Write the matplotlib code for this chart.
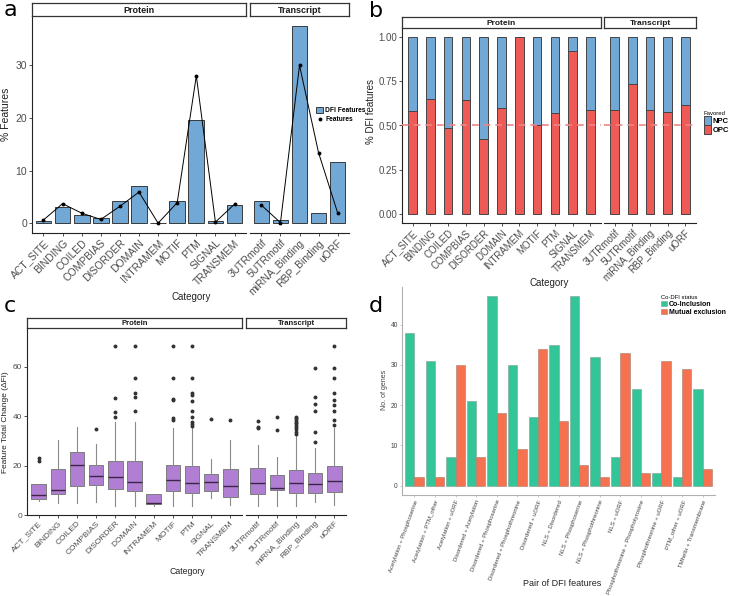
import numpy as np
import matplotlib
matplotlib.use('Agg')
import matplotlib.pyplot as plt
from matplotlib.patches import Patch
from matplotlib.lines import Line2D

plt.rcParams['font.family'] = ['Liberation Sans', 'DejaVu Sans']

# categories (facets)
protein_cats = ['ACT_SITE', 'BINDING', 'COILED', 'COMPBIAS', 'DISORDER', 'DOMAIN',
                'INTRAMEM', 'MOTIF', 'PTM', 'SIGNAL', 'TRANSMEM']
transcript_cats = ['3UTRmotif', '5UTRmotif', 'miRNA_Binding', 'RBP_Binding', 'uORF']

# panel a: % features
a_dfi_protein = [0.5, 3.0, 1.6, 0.9, 4.2, 7.0, 0.1, 4.2, 19.6, 0.4, 3.4]
a_dfi_transcript = [4.2, 0.6, 37.5, 2.0, 11.6]
a_feat_protein = [0.6, 3.7, 1.9, 0.7, 3.2, 5.9, 0.0, 3.9, 28.0, 0.2, 3.6]
a_feat_transcript = [3.4, 0.1, 30.0, 13.4, 2.0]

# panel b: fraction favoured by OPC (rest NPC)
b_opc_protein = [0.58, 0.65, 0.485, 0.645, 0.425, 0.60, 1.0, 0.505, 0.57, 0.92, 0.585]
b_opc_transcript = [0.59, 0.735, 0.588, 0.575, 0.615]

# panel c: boxplot stats, protein then transcript
c_whislo = [5.8, 4.9, 4.9, 5.4, 3.8, 3.5, 3.5, 3.8, 3.5, 6.7, 4.0,
            3.5, 3.5, 3.5, 5.1, 4.0]
c_q1 = [6.5, 8.6, 11.8, 12.3, 10.5, 9.6, 4.4, 9.6, 8.9, 9.6, 7.1,
        8.6, 10.0, 8.9, 8.9, 9.4]
c_med = [8.0, 10.2, 20.3, 15.9, 15.6, 13.3, 4.8, 14.3, 12.9, 13.5, 11.9,
         12.9, 11.1, 12.9, 12.7, 13.7]
c_q3 = [12.5, 18.6, 25.7, 20.4, 21.8, 21.8, 8.5, 20.4, 20.0, 16.6, 18.6,
        19.0, 16.3, 18.3, 17.0, 20.0]
c_whishi = [12.5, 30.5, 35.6, 28.8, 37.9, 37.9, 8.5, 35.2, 36.3, 22.5, 30.5,
            28.4, 23.7, 32.3, 27.1, 35.2]
c_fliers = [[23.0, 21.7], [], [], [34.8],
            [68.6, 47.3, 41.9, 39.9],
            [68.6, 55.4, 49.3, 47.7, 42.2], [],
            [68.6, 55.4, 47.0, 46.6, 39.2, 38.5],
            [68.6, 55.4, 49.3, 48.6, 46.2, 42.2, 39.9, 37.9, 36.8, 36.1],
            [38.9], [38.5],
            [38.3, 35.8, 35.2], [39.9, 34.5],
            [39.9, 39.2, 38.5, 37.9, 37.2, 36.5, 35.8, 34.8, 33.8, 32.9],
            [59.7, 48.0, 44.9, 42.2, 33.6, 29.4],
            [68.6, 59.7, 55.4, 49.3, 46.6, 44.6, 42.2, 38.5, 36.5]]

# panel d
d_pairs = ['Acetylation + Phosphoserine', 'Acetylation + PTM_other', 'Acetylation + uORF',
           'Disordered + Acetylation', 'Disordered + Phosphoserine',
           'Disordered + Phosphothreonine', 'Disordered + uORF', 'NLS + Disordered',
           'NLS + Phosphoserine', 'NLS + Phosphothreonine', 'NLS + uORF',
           'Phosphothreonine + Phosphotyrosine', 'Phosphothreonine + uORF',
           'PTM_other + uORF', 'TMhelix + Transmembrane']
d_coinclusion = [38, 31, 7, 21, 47, 30, 17, 35, 47, 32, 7, 24, 3, 2, 24]
d_mutual = [2, 2, 30, 7, 18, 9, 34, 16, 5, 2, 33, 3, 31, 29, 4]

blue = '#72A8D6'
red = '#EE5A55'
purple = '#B07FD3'
green = '#33C497'
orange = '#F5714F'
tick_col = '#4d4d4d'

W, H = 729, 596
fig = plt.figure(figsize=(W / 100, H / 100), dpi=100)


def rect(x0, y0, x1, y1):
    return [x0 / W, 1 - y1 / H, (x1 - x0) / W, (y1 - y0) / H]


def ftext(x, y, s, **kw):
    fig.text(x / W, 1 - y / H, s, **kw)


def make_facet(x0, x1, y0, y1, strip_y0, n, name, ylim, strip_fs, show_y):
    ax = fig.add_axes(rect(x0, y0, x1, y1))
    ax.set_xlim(-0.6, n - 0.4)
    ax.set_ylim(*ylim)
    ax.spines['top'].set_visible(False)
    ax.spines['right'].set_visible(False)
    ax.spines['left'].set_linewidth(0.8)
    ax.spines['bottom'].set_linewidth(0.8)
    ax.spines['left'].set_color('#222222')
    ax.spines['bottom'].set_color('#222222')
    ax.tick_params(length=2, width=0.6, colors='#333333', labelcolor=tick_col, pad=1.5)
    if not show_y:
        ax.spines['left'].set_visible(False)
        ax.tick_params(axis='y', left=False, labelleft=False)
    sax = fig.add_axes(rect(x0, strip_y0, x1, y0))
    sax.set_xticks([])
    sax.set_yticks([])
    for sp in sax.spines.values():
        sp.set_color('#333333')
        sp.set_linewidth(0.9)
    sax.text(0.5, 0.45, name, ha='center', va='center', fontsize=strip_fs,
             fontweight='bold', transform=sax.transAxes, color='#1a1a1a')
    return ax


def set_cats(ax, cats, fs):
    ax.set_xticks(range(len(cats)))
    ax.set_xticklabels(cats, rotation=45, ha='right', rotation_mode='anchor', fontsize=fs)


# ---------------- panel a ----------------
a_ylim = (-1.875, 39.375)
pa = make_facet(32, 246, 16, 233, 3, 11, 'Protein', a_ylim, 6.5, True)
ta = make_facet(250, 349, 16, 233, 3, 5, 'Transcript', a_ylim, 6.5, False)
for ax, cats, dfi, feat in [(pa, protein_cats, a_dfi_protein, a_feat_protein),
                            (ta, transcript_cats, a_dfi_transcript, a_feat_transcript)]:
    x = np.arange(len(cats))
    ax.bar(x, dfi, width=0.82, color=blue, edgecolor='#3a3a3a', linewidth=0.7)
    ax.plot(x, feat, color='black', lw=0.7, marker='o', ms=1.8)
    set_cats(ax, cats, 7.5)
pa.set_yticks([0, 10, 20, 30])
pa.tick_params(axis='y', labelsize=7.5)
ta.legend([Patch(facecolor=blue, edgecolor='#3a3a3a', linewidth=0.7),
           Line2D([], [], color='black', marker='o', ms=1.8, lw=0)],
          ['DFI Features', 'Features'], loc='upper left',
          bbox_to_anchor=(316 / W, 1 - 107 / H), bbox_transform=fig.transFigure,
          frameon=False, handlelength=1.1, handleheight=1.1,
          handletextpad=0.3, labelspacing=0.2, borderpad=0, borderaxespad=0,
          prop={'weight': 'bold', 'size': 4.8})
ftext(191, 297, 'Category', ha='center', va='center', fontsize=7, color='#222222')
ftext(6, 114, '% Features', ha='center', va='center', rotation=90, fontsize=7.5, color='#222222')
ftext(10, 16, 'a', ha='center', va='baseline', fontsize=16, family='DejaVu Sans')

# ---------------- panel b ----------------
b_ylim = (-0.05, 1.05)
pb = make_facet(402, 601, 28, 223, 17, 11, 'Protein', b_ylim, 6.0, True)
tb = make_facet(604, 696, 28, 223, 17, 5, 'Transcript', b_ylim, 6.0, False)
for ax, cats, opc in [(pb, protein_cats, b_opc_protein), (tb, transcript_cats, b_opc_transcript)]:
    x = np.arange(len(cats))
    opc = np.array(opc)
    ax.bar(x, opc, width=0.48, color=red, edgecolor='#444444', linewidth=0.7)
    ax.bar(x, 1 - opc, bottom=opc, width=0.48, color=blue, edgecolor='#444444', linewidth=0.7)
    ax.axhline(0.5, color='#F08585', lw=1.2, ls=(0, (4, 3)), zorder=3)
    set_cats(ax, cats, 7)
pb.set_yticks([0, 0.25, 0.5, 0.75, 1.0])
pb.set_yticklabels(['0.00', '0.25', '0.50', '0.75', '1.00'])
pb.tick_params(axis='y', labelsize=7)
tb.legend([Patch(facecolor=blue, edgecolor='#444444', linewidth=0.7),
           Patch(facecolor=red, edgecolor='#444444', linewidth=0.7)],
          ['NPC', 'OPC'], title='Favored', loc='upper left',
          bbox_to_anchor=(704 / W, 1 - 111 / H), bbox_transform=fig.transFigure,
          frameon=False, title_fontsize=4.3, handlelength=0.9,
          handleheight=1.4, handletextpad=0.25, labelspacing=0.0, borderpad=0,
          borderaxespad=0, prop={'weight': 'bold', 'size': 5.5})
tb.get_legend()._legend_box.align = 'left'
ftext(549, 283, 'Category', ha='center', va='center', fontsize=7, color='#222222')
ftext(371, 112, '% DFI features', ha='center', va='center', rotation=90, fontsize=7, color='#222222')
ftext(376, 17, 'b', ha='center', va='baseline', fontsize=16, family='DejaVu Sans')

# ---------------- panel c ----------------
c_ylim = (0, 75.8)
pc = make_facet(27, 242, 328, 515, 318, 11, 'Protein', c_ylim, 5.5, True)
tc = make_facet(246, 346, 328, 515, 318, 5, 'Transcript', c_ylim, 5.5, False)
all_cats = protein_cats + transcript_cats
stats = []
for i, cat in enumerate(all_cats):
    stats.append({'label': cat, 'whislo': c_whislo[i], 'q1': c_q1[i], 'med': c_med[i],
                  'q3': c_q3[i], 'whishi': c_whishi[i], 'fliers': c_fliers[i]})
for ax, st, cats in [(pc, stats[:11], protein_cats), (tc, stats[11:], transcript_cats)]:
    ax.bxp(st, positions=range(len(st)), widths=0.75, patch_artist=True, showcaps=False,
           boxprops=dict(facecolor=purple, edgecolor='#7d7d7d', linewidth=0.7),
           whiskerprops=dict(color='#8a8a8a', linewidth=0.8),
           medianprops=dict(color='#3b2448', linewidth=1.0),
           flierprops=dict(marker='o', markersize=1.8, markerfacecolor='#333333',
                           markeredgecolor='#333333'), manage_ticks=False)
    ax.set_xlim(-0.6, len(st) - 0.4)
    set_cats(ax, cats, 6)
pc.set_yticks([0, 20, 40, 60])
pc.tick_params(axis='y', labelsize=6)
ftext(187, 572, 'Category', ha='center', va='center', fontsize=6.3, color='#222222')
ftext(6, 422, 'Feature Total Change (ΔFI)', ha='center', va='center', rotation=90,
      fontsize=6, color='#222222')
ftext(10, 312, 'c', ha='center', va='baseline', fontsize=16, family='DejaVu Sans')

# ---------------- panel d ----------------
ad = fig.add_axes(rect(402, 287, 715, 495))
xd = np.arange(len(d_pairs))
ad.bar(xd - 0.225, d_coinclusion, width=0.45, color=green, edgecolor='#7f9f94',
       linewidth=0.4, label='Co-Inclusion')
ad.bar(xd + 0.225, d_mutual, width=0.45, color=orange, edgecolor='#a08070',
       linewidth=0.4, label='Mutual exclusion')
ad.set_xlim(-0.6, len(d_pairs) - 0.4)
ad.set_ylim(-2.35, 49.35)
ad.set_yticks([0, 10, 20, 30, 40])
ad.set_xticks(xd)
ad.set_xticklabels(d_pairs, rotation=70, ha='right', rotation_mode='anchor', fontsize=4.3)
ad.spines['top'].set_visible(False)
ad.spines['right'].set_visible(False)
ad.spines['left'].set_color('#b0b0b0')
ad.spines['bottom'].set_color('#b0b0b0')
ad.tick_params(length=1.5, width=0.5, colors='#b0b0b0', labelcolor='#444444', pad=1.5)
ad.tick_params(axis='y', labelsize=4.8)
ad.legend(title='Co-DFI status', loc='upper left',
          bbox_to_anchor=(661 / W, 1 - 295 / H), bbox_transform=fig.transFigure,
          frameon=False, title_fontsize=4.2, handlelength=0.8, handleheight=0.9,
          handletextpad=0.3, labelspacing=0.1, borderpad=0, borderaxespad=0,
          prop={'weight': 'bold', 'size': 5})
ad.get_legend()._legend_box.align = 'left'
ftext(562, 583, 'Pair of DFI features', ha='center', va='center', fontsize=6.5, color='#222222')
ftext(385, 390, 'No. of genes', ha='center', va='center', rotation=90, fontsize=5, color='#444444')
ftext(376, 312, 'd', ha='center', va='baseline', fontsize=16, family='DejaVu Sans')

fig.savefig('out.png', dpi=100)
